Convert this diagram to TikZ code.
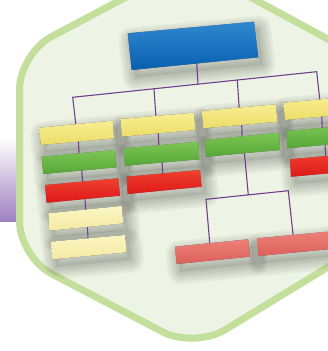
\documentclass[tikz,border=0pt]{standalone}

\definecolor{hexfill}{RGB}{238,244,229}
\definecolor{hexline}{RGB}{196,223,156}
\definecolor{stripbot}{RGB}{158,128,192}
\definecolor{wirecol}{RGB}{112,62,142}
\definecolor{boxrim}{RGB}{84,84,100}
\definecolor{bluetop}{RGB}{48,136,208}
\definecolor{bluebot}{RGB}{8,96,176}
\definecolor{yellowtop}{RGB}{247,238,146}
\definecolor{yellowbot}{RGB}{236,220,104}
\definecolor{greentop}{RGB}{124,198,84}
\definecolor{greenbot}{RGB}{86,166,56}
\definecolor{redtop}{RGB}{240,64,48}
\definecolor{redbot}{RGB}{222,24,24}
\definecolor{paletop}{RGB}{250,245,194}
\definecolor{palebot}{RGB}{245,234,162}
\definecolor{salmontop}{RGB}{236,128,120}
\definecolor{salmonbot}{RGB}{220,96,90}

\tikzset{
  wire/.style={draw=wirecol, line width=1.1pt},
  shadowring/.style={draw=black, draw opacity=0.035, line join=round, shift={(4,7)}},
  shadowcore/.style={fill=black, fill opacity=0.05, shift={(4,7)}},
}

% soft drop shadow of one box: #1 name, #2 colour prefix, #3..#6 corners
\newcommand\orgshadow[6]{%
  \foreach \w in {26,22,18,14,10,6,2}
    \draw[shadowring, line width=\w pt] #3 -- #4 -- #5 -- #6 -- cycle;
  \fill[shadowcore] #3 -- #4 -- #5 -- #6 -- cycle;
}

% one box: #1 name, #2 colour prefix, #3 #4 #5 #6 corners (top left, top right, bottom right, bottom left)
\newcommand\orgbox[6]{%
  \coordinate (#1-tl) at #3;
  \coordinate (#1-tr) at #4;
  \coordinate (#1-br) at #5;
  \coordinate (#1-bl) at #6;
  \fill[boxrim, shift={(1.4,1.4)}] (#1-tl) -- (#1-tr) -- (#1-br) -- (#1-bl) -- cycle;
  \shade[top color=#2top, bottom color=#2bot] (#1-tl) -- (#1-tr) -- (#1-br) -- (#1-bl) -- cycle;
}

% every box of the chart, handed to #1
\newcommand\allboxes[1]{%
  #1{top}{blue}{(127.7,33.3)}{(254,21.7)}{(258.3,57.3)}{(131.7,70)}
  #1{y1}{yellow}{(39.3,127.7)}{(112.7,120.7)}{(114,138.3)}{(40.7,145)}
  #1{y2}{yellow}{(120.7,119)}{(194,112.7)}{(195.3,130)}{(121.7,136.7)}
  #1{y3}{yellow}{(201.7,111)}{(276,104.3)}{(277.3,121.7)}{(203.3,128.3)}
  #1{y4}{yellow}{(283.3,102.7)}{(360,95.8)}{(361.5,113)}{(285,120)}
  #1{g1}{green}{(41.7,156.7)}{(115,150)}{(116.7,167.3)}{(43.3,174)}
  #1{g2}{green}{(124,148.3)}{(198.3,141.7)}{(199.3,159.3)}{(125,165.7)}
  #1{g3}{green}{(205,140)}{(279.3,132.7)}{(280,150)}{(206,156.7)}
  #1{g4}{green}{(286.7,131)}{(362,124.2)}{(363,141.5)}{(287.3,148.3)}
  #1{r1}{red}{(45,185)}{(118.3,178.3)}{(120,195.7)}{(46.7,202.7)}
  #1{r2}{red}{(126.7,176.7)}{(200,170)}{(201.7,186.7)}{(127.7,194)}
  #1{r4}{red}{(290,159.3)}{(365,152.5)}{(366,170)}{(291,176.7)}
  #1{p1}{pale}{(48.3,213.3)}{(121.7,206)}{(123.3,223.3)}{(49.3,230.7)}
  #1{p2}{pale}{(51,241.7)}{(125,235)}{(126.7,252.3)}{(52.3,259.3)}
  #1{s1}{salmon}{(175,246.7)}{(248.3,239.3)}{(250,256.7)}{(176.7,264)}
  #1{s2}{salmon}{(257.3,238.3)}{(335,231)}{(336,248.5)}{(258.3,256)}
}

\begin{document}
\begin{tikzpicture}[x=1pt, y=-1pt]
\useasboundingbox (0,0) rectangle (328,351);
\clip (0,0) rectangle (328,351);

% purple strip behind the hexagon
\shade[top color=white, bottom color=stripbot] (0,138) rectangle (22,221);

% hexagonal panel
\draw[hexline, line width=7pt, fill=hexfill, rounded corners=36pt]
  (188.7,-36.1) -- (19.5,53.6) -- (19.5,257) -- (194.4,348.5)
  -- (360,247.5) -- (360,56.4) -- cycle;

% shadows under all boxes, kept inside the panel
\begin{scope}
  \clip[rounded corners=36pt] (188.7,-36.1) -- (19.5,53.6) -- (19.5,257) -- (194.4,348.5)
    -- (360,247.5) -- (360,56.4) -- cycle;
  \allboxes\orgshadow
\end{scope}

% connector points
\coordinate (j0) at (196.7,62);
\coordinate (j1) at (198,84.1);
\coordinate (busL) at (72.7,97.3);
\coordinate (busR) at (316.7,71.7);
\coordinate (b2) at (154,88.8);
\coordinate (b3) at (237.3,80);
\coordinate (d1) at (76,126);
\coordinate (d2) at (156,118);
\coordinate (d3) at (239.3,110);
\coordinate (d4) at (320,102);

\coordinate (c1a) at (78.3,140);  \coordinate (c1b) at (79.5,159);
\coordinate (c1c) at (81.5,166);  \coordinate (c1d) at (83,188);
\coordinate (c1e) at (84.8,195);  \coordinate (c1f) at (86,216);
\coordinate (c1g) at (87.3,223);  \coordinate (c1h) at (88.3,245);

\coordinate (c2a) at (158.3,132); \coordinate (c2b) at (159,150);
\coordinate (c2c) at (162,160);   \coordinate (c2d) at (163,179);

\coordinate (c3a) at (241.7,124); \coordinate (c3b) at (242.3,142);
\coordinate (c3c) at (244.3,152); \coordinate (c3d) at (248.3,194.9);
\coordinate (bus2L) at (206,199.3);
\coordinate (bus2R) at (288.3,190.7);
\coordinate (e1) at (210,246);
\coordinate (e2) at (293.3,237);

\coordinate (c4a) at (321.7,116); \coordinate (c4b) at (322.5,134);
\coordinate (c4c) at (325,144);   \coordinate (c4d) at (326,162);

% connectors
\draw[wire] (j0) -- (j1);
\draw[wire] (d1) -- (busL) -- (busR) -- (d4);
\draw[wire] (b2) -- (d2);
\draw[wire] (b3) -- (d3);
\draw[wire] (c1a) -- (c1b);
\draw[wire] (c1c) -- (c1d);
\draw[wire] (c1e) -- (c1f);
\draw[wire] (c1g) -- (c1h);
\draw[wire] (c2a) -- (c2b);
\draw[wire] (c2c) -- (c2d);
\draw[wire] (c3a) -- (c3b);
\draw[wire] (c3c) -- (c3d);
\draw[wire] (e1) -- (bus2L) -- (bus2R) -- (e2);
\draw[wire] (c4a) -- (c4b);
\draw[wire] (c4c) -- (c4d);

% boxes
\allboxes\orgbox
\end{tikzpicture}
\end{document}
